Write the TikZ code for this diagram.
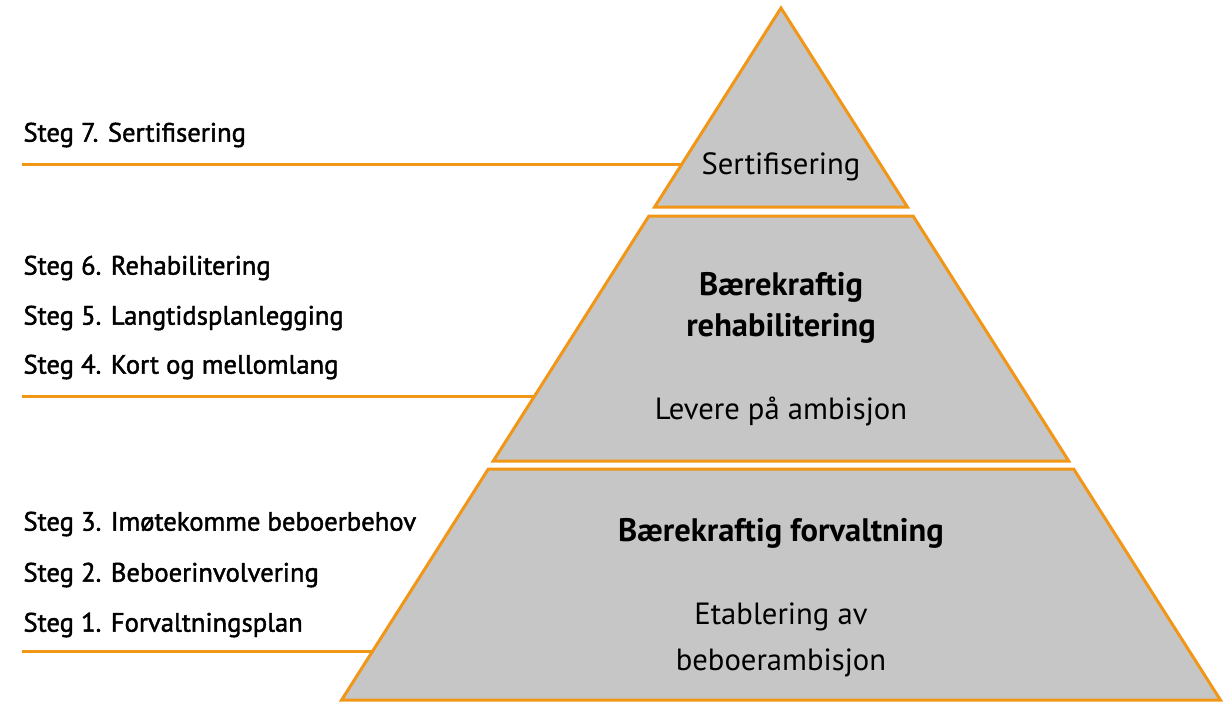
\documentclass[tikz,border=0pt]{standalone}
\usepackage{fontspec}
\setmainfont{PT Sans}
\newfontfamily\stegfont{PT Sans}[FakeBold=1.6]
\definecolor{pyrorange}{RGB}{241,150,22}
\definecolor{pyrgray}{RGB}{198,198,198}

\tikzset{every picture/.style={line width=2.25pt}}
\tikzset{tier/.style={draw=pyrorange, fill=pyrgray, line join=miter},
         stegline/.style={draw=pyrorange},
         steglabel/.style={anchor=west, inner sep=0pt, font=\stegfont\fontsize{20}{24}\selectfont},
         tiertext/.style={align=center, inner sep=0pt, font=\fontsize{23}{34.5}\selectfont},
         tierhead/.style={align=center, inner sep=0pt, font=\bfseries\fontsize{24.4}{30.8}\selectfont}}

\begin{document}
\begin{tikzpicture}[x=0.75pt,y=0.75pt,yscale=-1,xscale=1]
	\useasboundingbox (0,0) rectangle (1230,703);

	%Straight Lines
	\coordinate (s7a) at (22,164.5);
	\coordinate (s7b) at (682,164.5);
	\draw [stegline] (s7a) -- (s7b) ;
	%Straight Lines
	\coordinate (s4a) at (22,396.5);
	\coordinate (s4b) at (535,396.5);
	\draw [stegline] (s4a) -- (s4b) ;
	%Straight Lines
	\coordinate (s1a) at (22,651);
	\coordinate (s1b) at (373,651);
	\draw [stegline] (s1a) -- (s1b) ;

	%Shape: Triangle
	\draw [tier] (781,8) -- (907.4,207) -- (654.6,207) -- cycle ;
	%Shape: Trapezoid
	\draw [tier] (648.9,216) -- (913.1,216) -- (1068.7,461) -- (493.3,461) -- cycle ;
	%Shape: Trapezoid
	\draw [tier] (488.3,469) -- (1073.7,469) -- (1220.4,700) -- (341.6,700) -- cycle ;

	% Text Node
	\draw (781,167) node [tiertext] (sert) {Sertifisering};
	% Text Node
	\draw (781,308) node [tierhead] (rehab) {Bærekraftig\\rehabilitering};
	% Text Node
	\draw (781,411) node [tiertext] (levere) {Levere på ambisjon};
	% Text Node
	\draw (781,533) node [tierhead] (forv) {Bærekraftig forvaltning};
	% Text Node
	\draw (781,640) node [tiertext] (etabl) {Etablering av\\beboerambisjon};

	% Text Node
	\draw (22,135) node [steglabel] (steg7) {Steg 7. Sertifisering};
	% Text Node
	\draw (22,268) node [steglabel] (steg6) {Steg 6. Rehabilitering};
	% Text Node
	\draw (22,318) node [steglabel] (steg5) {Steg 5. Langtidsplanlegging};
	% Text Node
	\draw (22,367) node [steglabel] (steg4) {Steg 4. Kort og mellomlang};
	% Text Node
	\draw (22,524) node [steglabel] (steg3) {Steg 3. Imøtekomme beboerbehov};
	% Text Node
	\draw (22,575) node [steglabel] (steg2) {Steg 2. Beboerinvolvering};
	% Text Node
	\draw (22,625) node [steglabel] (steg1) {Steg 1. Forvaltningsplan};

\end{tikzpicture}
\end{document}
